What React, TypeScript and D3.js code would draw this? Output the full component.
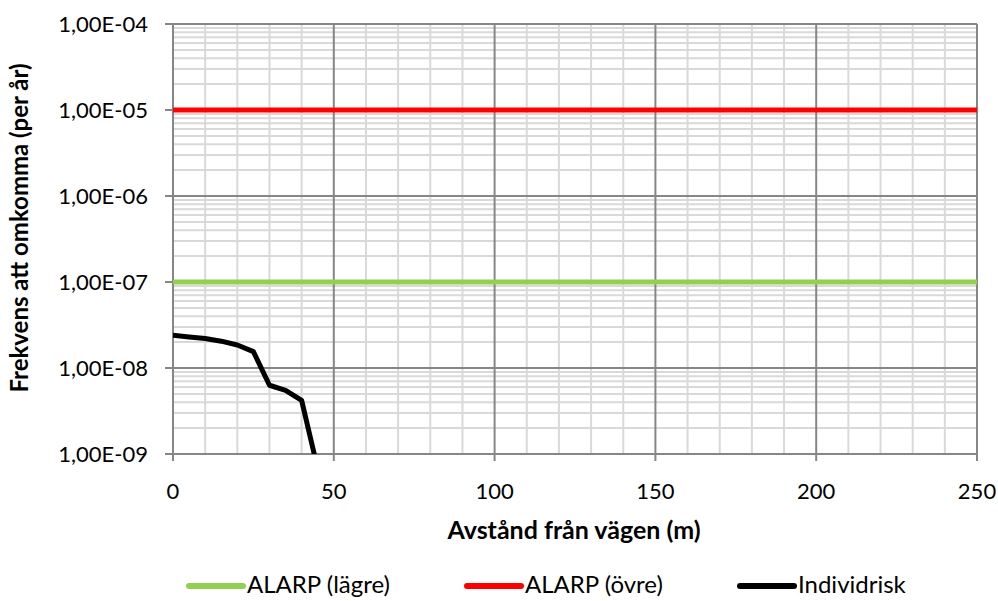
import React from 'react';
import * as d3 from 'd3';

// distances (m) and individual risk values
const distances = [0, 5, 10, 15, 20, 25, 30, 35, 40, 45];
const individualRisk = [2.4e-8, 2.3e-8, 2.2e-8, 2.05e-8, 1.85e-8, 1.55e-8, 6.3e-9, 5.5e-9, 4.2e-9, 6.7e-10];
const alarpLower = [1e-7, 1e-7];
const alarpUpper = [1e-5, 1e-5];
const alarpX = [0, 250];
const xTicks = [0, 50, 100, 150, 200, 250];
const yTicks = [1e-9, 1e-8, 1e-7, 1e-6, 1e-5, 1e-4];
const yTickLabels = ['1,00E-09', '1,00E-08', '1,00E-07', '1,00E-06', '1,00E-05', '1,00E-04'];
const legendItems = [
  { label: 'ALARP (lägre)', color: '#92D050' },
  { label: 'ALARP (övre)', color: '#FF0000' },
  { label: 'Individrisk', color: '#000000' },
];
const legendX = [189, 467, 740];

const W = 998;
const H = 601;
const FONT = 'Lato, Carlito, "Open Sans", sans-serif';

export default function App() {
  const x = d3.scaleLinear().domain([0, 250]).range([173, 977]);
  const y = d3.scaleLog().domain([1e-9, 1e-4]).range([454, 24]);

  const minorX = d3.range(10, 250, 10).filter((v) => v % 50 !== 0);
  const minorY: number[] = [];
  for (let e = -9; e < -4; e++) {
    for (let m = 2; m <= 9; m++) minorY.push(m * Math.pow(10, e));
  }

  const line = d3
    .line<[number, number]>()
    .x((d) => x(d[0]))
    .y((d) => y(d[1]));

  const riskPts = distances.map((d, i) => [d, individualRisk[i]] as [number, number]);
  const lowerPts = alarpX.map((d, i) => [d, alarpLower[i]] as [number, number]);
  const upperPts = alarpX.map((d, i) => [d, alarpUpper[i]] as [number, number]);

  const [x0, x1] = x.range();
  const [y0, y1] = y.range();

  return (
    <svg width={W} height={H} style={{ display: 'block', position: 'absolute', left: 0, top: 0 }}>
      <rect width={W} height={H} fill="#fff" />
      <defs>
        <clipPath id="plot">
          <rect x={x0} y={y1} width={x1 - x0} height={y0 - y1} />
        </clipPath>
      </defs>
      {/* minor grid */}
      {minorX.map((v) => (
        <line key={'mx' + v} x1={x(v)} x2={x(v)} y1={y1} y2={y0} stroke="#d9d9d9" strokeWidth={2} />
      ))}
      {minorY.map((v) => (
        <line key={'my' + v} x1={x0} x2={x1} y1={y(v)} y2={y(v)} stroke="#d9d9d9" strokeWidth={2} />
      ))}
      {/* major grid */}
      {xTicks.map((v) => (
        <line key={'Mx' + v} x1={x(v)} x2={x(v)} y1={y1} y2={y0 + 7} stroke="#868686" strokeWidth={2} />
      ))}
      {yTicks.map((v) => (
        <line key={'My' + v} x1={x0 - 8} x2={x1} y1={y(v)} y2={y(v)} stroke="#868686" strokeWidth={2} />
      ))}
      {/* series */}
      <g clipPath="url(#plot)" fill="none" strokeWidth={5} strokeLinejoin="round">
        <path d={line(lowerPts) || ''} stroke="#92D050" />
        <path d={line(upperPts) || ''} stroke="#FF0000" />
        <path d={line(riskPts) || ''} stroke="#000" />
      </g>
      {/* y tick labels */}
      {yTicks.map((v, i) => (
        <text key={'yl' + v} x={148} y={y(v)} dy="0.35em" textAnchor="end" fontFamily={FONT} fontSize={22} fill="#000">
          {yTickLabels[i]}
        </text>
      ))}
      {/* x tick labels */}
      {xTicks.map((v) => (
        <text key={'xl' + v} x={x(v)} y={491} dy="0.35em" textAnchor="middle" fontFamily={FONT} fontSize={22} fill="#000">
          {v}
        </text>
      ))}
      <text x={574} y={530} dy="0.35em" textAnchor="middle" fontFamily={FONT} fontSize={25} fontWeight="bold">
        Avstånd från vägen (m)
      </text>
      <text
        transform={`translate(20,228) rotate(-90)`}
        dy="0.35em"
        textAnchor="middle"
        fontFamily={FONT}
        fontSize={24}
        fontWeight="bold"
      >
        Frekvens att omkomma (per år)
      </text>
      {/* legend */}
      {legendItems.map((it, i) => {
        const lx = legendX[i];
        return (
          <g key={it.label}>
            <line x1={lx} x2={lx + 54} y1={586} y2={586} stroke={it.color} strokeWidth={6} strokeLinecap="round" />
            <text x={lx + 58} y={585} dy="0.35em" fontFamily={FONT} fontSize={24} fill="#000">
              {it.label}
            </text>
          </g>
        );
      })}
    </svg>
  );
}
